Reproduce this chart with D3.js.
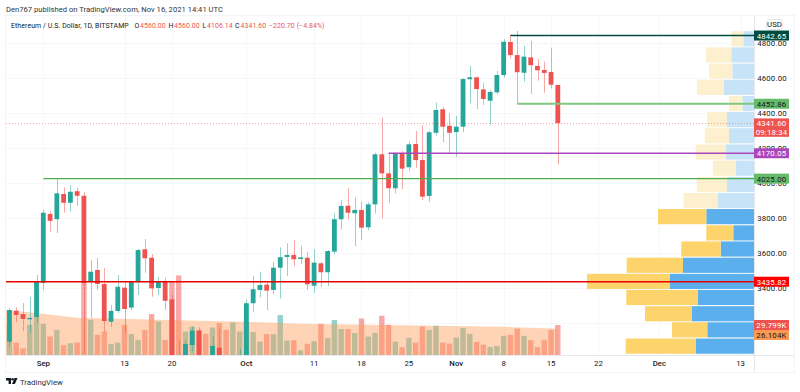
<!DOCTYPE html>
<html><head><meta charset="utf-8">
<script src="https://cdn.jsdelivr.net/npm/d3@7"></script>
<style>html,body{margin:0;padding:0;background:#fff;overflow:hidden}svg{display:block;font-family:Roboto,sans-serif}</style>
</head><body><svg id="c" width="800" height="392"></svg>
<script>
const firstCandle = "2021-08-27";
const open = [3093,3270,3251,3225,3234,3430,3823,3793,3937,3887,3953,3927,3436,3503,3423,3207,3269,3402,3288,3436,3621,3573,3400,3436,3335,2977,2757,3074,3156,2930,2925,3059,2930,2807,2850,3000,3313,3389,3419,3389,3516,3577,3589,3566,3573,3413,3541,3490,3608,3793,3870,3827,3846,3747,3878,4164,4055,3970,4166,4090,4223,4131,3926,4287,4421,4327,4291,4322,4593,4604,4535,4470,4518,4617,4806,4731,4630,4718,4669,4646,4634,4560];
const high = [3286,3291,3314,3349,3474,3847,3840,4023,3975,3989,3973,3947,3560,3571,3514,3303,3474,3436,3440,3623,3680,3594,3463,3459,3360,3103,3103,3179,3175,2970,3122,3170,2975,2960,3052,3335,3469,3493,3436,3550,3633,3655,3674,3640,3606,3621,3550,3617,3827,3903,3970,3918,3893,3890,4173,4373,4170,4175,4183,4236,4297,4331,4297,4459,4433,4398,4383,4598,4669,4607,4573,4531,4640,4821,4846,4869,4783,4811,4709,4693,4773,4560];
const low = [3063,3206,3154,3143,3200,3389,3722,3714,3830,3836,3869,3023,3229,3389,3149,3177,3257,3143,3274,3360,3487,3350,3360,3274,2950,2650,2750,3036,2740,2820,2740,2920,2800,2790,2830,2970,3265,3347,3274,3366,3341,3469,3526,3535,3389,3373,3407,3411,3593,3735,3793,3640,3674,3731,3827,3798,3887,3941,3966,4070,4087,3903,3893,4270,4233,4170,4150,4290,4455,4423,4446,4331,4507,4602,4713,4451,4579,4509,4585,4516,4541,4106.14];
const close = [3274,3246,3223,3229,3436,3830,3784,3941,3887,3950,3927,3429,3493,3423,3211,3269,3407,3280,3434,3617,3570,3398,3436,3327,2977,2757,3080,3156,2930,2925,3069,2930,2807,2850,3000,3313,3393,3417,3385,3516,3576,3589,3564,3575,3421,3545,3490,3611,3793,3869,3830,3846,3745,3878,4164,4055,3970,4170,4082,4221,4131,3922,4290,4417,4322,4287,4322,4594,4604,4537,4480,4520,4617,4807,4731,4633,4722,4673,4644,4629,4562,4341.6];
const volumeK = [30,12.3,6.7,30,37.7,31,18.3,25,9.7,11.7,12.3,73,35,20,23.3,11,12.3,30,20.7,15,25,40.7,33.3,15,73,79,23.3,28.3,25,21,27.3,31.7,25,32.3,23.3,33,22.7,13.3,20.7,20.7,39.7,14.3,14.7,4.7,11.3,13.7,31,16.7,34.7,25.7,25.7,21.7,36.3,18.3,22,39,30,13.3,7.7,17,12.3,28.3,25,29,12.3,11.3,17.3,27,21,13,10.3,8,9,19,20,26.3,19,14.7,8,14.7,25,29.799];
const maDays = ["2021-08-26","2021-09-01","2021-09-06","2021-09-24","2021-10-01","2021-10-09","2021-10-24","2021-10-29","2021-11-08","2021-11-16"];
const maVolumeK = [45,41,37,34,33,31,29.5,29,28,26.104];
const profileBinTop = [4870,4778,4685,4593,4500,4408,4316,4223,4131,4038,3946,3854,3761,3669,3576,3484,3392,3299,3207,3114,3022];
const profileUp = [10.7,22.7,21.7,30,11.7,27,25,28.3,18,27,36,47.7,20.7,33.3,71,84,56,62,46.7,58,39];
const profileDown = [12,25.3,23.3,27,13.3,20,24.3,30,23.3,30.3,34.3,48.3,27,39.4,56.3,83,71.7,47,35.3,70.3,40];
const valueAreaTop = 3854, valueAreaBottom = 3022;
const gridPrices = [4800,4600,4400,4200,4000,3800,3600,3400,3200];
const priceTicks = [4800,4600,4400,4200,4000,3800,3600,3400];
const timeTickDates = ["2021-09-01","2021-09-13","2021-09-20","2021-10-01","2021-10-11","2021-10-18","2021-10-25","2021-11-01","2021-11-08","2021-11-15","2021-11-22","2021-12-01","2021-12-13"];
const timeTickLabels = ["Sep","13","20","Oct","11","18","25","Nov","8","15","22","Dec","13"];
const levelPrices = [4842.65,4452.86,4170.05,4025.00,3435.82];
const levelStarts = ["2021-11-09","2021-11-10","2021-10-22","2021-09-01","2021-08-26"];
const levelStyles = [
 {c:"#004d40",w:1.5,t:"#fff"},{c:"#81c784",w:2,t:"#131722",bg:"#66bb6a"},{c:"#ab47bc",w:1.5,t:"#fff"},
 {c:"#4caf50",w:1.2,t:"#131722",bg:"#66bb6a"},{c:"#e80000",w:1.3,t:"#fff",bg:"#ff0000"}];
const lastPrice = 4341.60, countdown = "09:18:34";

const parse = d3.utcParse("%Y-%m-%d");
const P = {l:6,r:754,t:16,b:355,fr:794,fb:372};
const x = d3.scaleUtc().domain([parse("2021-09-01"),parse("2021-12-13")]).range([43.3,740.6]);
const y = d3.scaleLinear().domain([4800,3400]).range([43,288]);
const yv = d3.scaleLinear().domain([0,29.799]).range([355,325]);
const wp = d3.scaleLinear().domain([0,167]).range([0,167]);
const days = open.map((_,i)=>d3.utcDay.offset(parse(firstCandle),i));
const svg = d3.select("#c");
const TEAL="#26a69a", RED="#ef5350", TXT="#131722", BORDER="#f0f3fa", GRID="#f6f7fa";
svg.append("defs").append("clipPath").attr("id","pl").append("rect").attr("x",P.l).attr("y",P.t).attr("width",P.r-P.l).attr("height",P.b-P.t);

// frame
const fr = svg.append("g").attr("stroke",BORDER).attr("fill","none");
fr.append("rect").attr("x",P.l-.5).attr("y",P.t-.5).attr("width",P.fr-P.l+1).attr("height",P.fb-P.t+1);
fr.append("line").attr("x1",P.r+.5).attr("x2",P.r+.5).attr("y1",P.t).attr("y2",P.fb).attr("stroke","#e6e8ee");
fr.append("line").attr("x1",P.l).attr("x2",P.fr).attr("y1",P.b+.5).attr("y2",P.b+.5).attr("stroke","#e6e8ee");

const plot = svg.append("g").attr("clip-path","url(#pl)");
// grid
plot.append("g").selectAll("line").data(gridPrices).join("line")
 .attr("x1",P.l).attr("x2",P.r).attr("y1",d=>Math.round(y(d))+.5).attr("y2",d=>Math.round(y(d))+.5).attr("stroke",GRID);
plot.append("g").selectAll("line").data(timeTickDates).join("line")
 .attr("y1",P.t).attr("y2",P.b).attr("x1",d=>Math.round(x(parse(d)))+.5).attr("x2",d=>Math.round(x(parse(d)))+.5).attr("stroke",GRID);
// volume
plot.append("g").selectAll("rect").data(volumeK).join("rect")
 .attr("x",(d,i)=>x(days[i])-2.7).attr("width",5.4).attr("y",d=>yv(d)).attr("height",d=>P.b-yv(d))
 .attr("fill",(d,i)=>close[i]>=open[i]?TEAL:RED).attr("opacity",.5);
// volume MA area over the bars
plot.append("path").datum(maDays.map((d,i)=>[parse(d),maVolumeK[i]]))
 .attr("d",d3.area().x(d=>x(d[0])).y0(P.b).y1(d=>yv(d[1]))).attr("fill","#ff9850").attr("opacity",.42);
// volume profile
const prof = plot.append("g");
const faded = t => t>valueAreaTop || t<=valueAreaBottom;
profileBinTop.forEach((t,i)=>{
  const y0=y(t), y1=y(t-92.4), f=faded(t);
  prof.append("rect").attr("x",P.r-wp(profileUp[i])).attr("width",wp(profileUp[i])).attr("y",y0+.5).attr("height",y1-y0-1)
    .attr("fill",f?"#c6e3f7":"#5aafec");
  prof.append("rect").attr("x",P.r-wp(profileUp[i])-wp(profileDown[i])).attr("width",wp(profileDown[i])).attr("y",y0+.5).attr("height",y1-y0-1)
    .attr("fill",f?"#fdf0cf":"#fdd36c");
});
// last price dotted line
plot.append("line").attr("x1",P.l).attr("x2",P.r).attr("y1",Math.round(y(lastPrice))+.5).attr("y2",Math.round(y(lastPrice))+.5)
 .attr("stroke",RED).attr("stroke-width",1).attr("stroke-dasharray","1 2").attr("opacity",.5);
// candles
const cg = plot.append("g");
cg.selectAll("line").data(open).join("line")
 .attr("x1",(d,i)=>Math.round(x(days[i]))+.5).attr("x2",(d,i)=>Math.round(x(days[i]))+.5)
 .attr("y1",(d,i)=>y(high[i])).attr("y2",(d,i)=>y(low[i]))
 .attr("stroke",(d,i)=>close[i]>=open[i]?TEAL:RED).attr("opacity",.5);
cg.selectAll("rect").data(open).join("rect")
 .attr("x",(d,i)=>x(days[i])-2.4).attr("width",4.8)
 .attr("y",(d,i)=>y(Math.max(d,close[i]))).attr("height",(d,i)=>Math.max(1.4,Math.abs(y(d)-y(close[i]))))
 .attr("fill",(d,i)=>close[i]>=open[i]?TEAL:RED);
// level lines
levelPrices.forEach((p,i)=>{
  const s=levelStyles[i];
  svg.append("line").attr("x1",x(parse(levelStarts[i]))).attr("x2",P.r).attr("y1",y(p)).attr("y2",y(p))
   .attr("stroke",s.c).attr("stroke-width",s.w).attr("clip-path","url(#pl)");
});
// price ticks
const fs=7.8;
svg.append("g").selectAll("text").data(priceTicks).join("text")
 .attr("x",772).attr("y",d=>y(d)+3).attr("text-anchor","middle").attr("font-size",fs).attr("letter-spacing",.2).attr("fill",TXT).text(d=>d3.format(".2f")(d));
// labels
function tag(cy,h,bg,col,lines){
  svg.append("rect").attr("x",P.r).attr("y",cy-h/2).attr("width",35).attr("height",h).attr("fill",bg);
  lines.forEach((t,i)=>svg.append("text").attr("x",771.5).attr("y",cy-h/2+8+i*9).attr("text-anchor","middle").attr("font-size",fs).attr("letter-spacing",.2).attr("fill",col).text(t));
}
levelPrices.forEach((p,i)=>{const s=levelStyles[i];tag(y(p),10,s.bg||s.c,s.t,[d3.format(".2f")(p)]);});
tag(y(lastPrice)+4.4,18.4,RED,"#fff",[d3.format(".2f")(lastPrice),countdown]);
tag(325,10,RED,"#fff",["29.799K"]);
tag(335,10,"#ff9850",TXT,["26.104K"]);
// USD
svg.append("rect").attr("x",766.5).attr("y",19.5).attr("width",16).attr("height",10).attr("rx",2).attr("fill","#fff").attr("stroke","#e6e8ee");
svg.append("text").attr("x",774.5).attr("y",27).attr("text-anchor","middle").attr("font-size",fs).attr("fill",TXT).text("USD");
// time ticks
svg.append("g").selectAll("text").data(timeTickDates).join("text")
 .attr("x",d=>x(parse(d))).attr("y",366).attr("text-anchor","middle").attr("font-size",fs).attr("fill",TXT)
 .attr("font-weight",(d,i)=>isNaN(+timeTickLabels[i])?500:400).text((d,i)=>timeTickLabels[i]);
// header
svg.append("text").attr("x",6).attr("y",12).attr("font-size",7.6).attr("fill","#333").attr("letter-spacing",.02)
 .text("Den767 published on TradingView.com, Nov 16, 2021 14:41 UTC");
const leg=svg.append("text").attr("y",27.5).attr("font-size",6.9).attr("letter-spacing",.1);
[["Ethereum / U.S. Dollar, 1D, BITSTAMP",11,TXT],["O",134.5,TXT],["4560.00",140,RED],["H",168.5,TXT],["4560.00",174,RED],["L",202.5,TXT],["4106.14",207,RED],["C",235,TXT],["4341.60",240.5,RED],["−220.70 (−4.84%)",269,RED]]
 .forEach(d=>leg.append("tspan").attr("x",d[1]).attr("fill",d[2]).text(d[0]));
// logo
const lg=svg.append("g").attr("fill","#131722");
lg.append("path").attr("d","M6 378h5v6h-2.4v-3.6H6z");
lg.append("circle").attr("cx",12.6).attr("cy",379.2).attr("r",1.2);
lg.append("path").attr("d","M14.6 378h2.9l-2.6 6h-2.9z");
svg.append("text").attr("x",20).attr("y",385).attr("font-size",7.8).attr("fill","#2a2e39").text("TradingView");
</script></body></html>
